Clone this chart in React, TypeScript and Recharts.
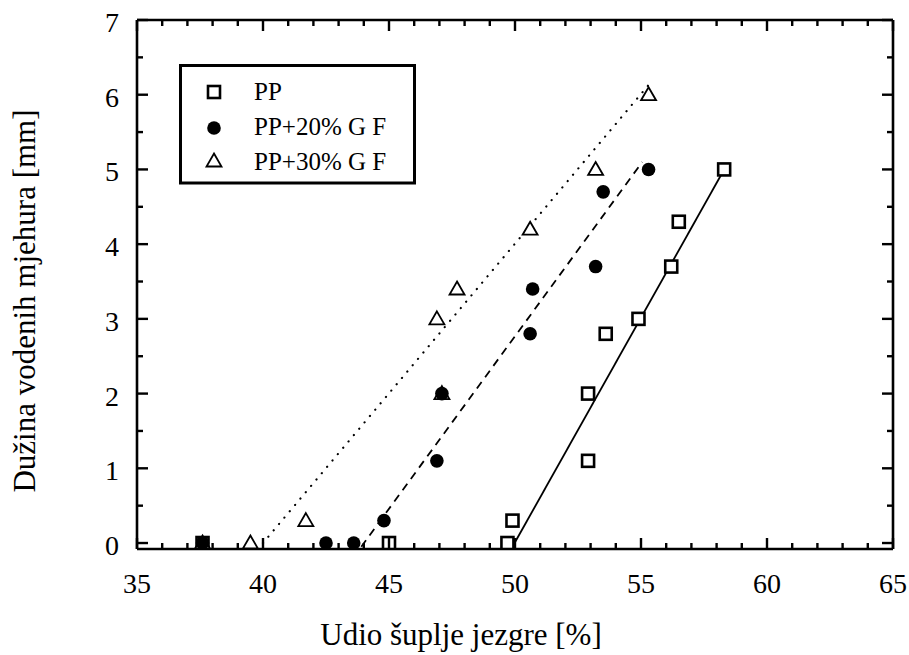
import { ComposedChart, Scatter, Line, XAxis, YAxis } from 'recharts'

// measured points, x = core void share [%], y = water bubble length [mm]
const ppX = [37.6, 45.0, 49.7, 49.9, 52.9, 52.9, 53.6, 54.9, 56.2, 56.5, 58.3]
const ppY = [0, 0, 0, 0.3, 1.1, 2.0, 2.8, 3.0, 3.7, 4.3, 5.0]

const gf20X = [37.6, 42.5, 43.6, 44.8, 46.9, 47.1, 50.6, 50.7, 53.2, 53.5, 55.3]
const gf20Y = [0, 0, 0, 0.3, 1.1, 2.0, 2.8, 3.4, 3.7, 4.7, 5.0]

const gf30X = [37.6, 39.5, 41.7, 46.9, 47.1, 47.7, 50.6, 53.2, 55.3]
const gf30Y = [0, 0, 0.3, 3.0, 2.0, 3.4, 4.2, 5.0, 6.0]

// fitted lines (end points)
const ppFitX = [49.9, 58.3]
const ppFitY = [-0.05, 5.0]
const gf20FitX = [43.9, 55.05]
const gf20FitY = [-0.05, 5.1]
const gf30FitX = [40.0, 55.4]
const gf30FitY = [0.0, 6.17]

const xTicks = [35, 36, 37, 38, 39, 40, 41, 42, 43, 44, 45, 46, 47, 48, 49, 50, 51, 52, 53, 54, 55, 56, 57, 58, 59, 60, 61, 62, 63, 64, 65]
const xMajor = [35, 40, 45, 50, 55, 60, 65]
const yTicks = [0, 0.5, 1, 1.5, 2, 2.5, 3, 3.5, 4, 4.5, 5, 5.5, 6, 6.5, 7]
const yMajor = [0, 1, 2, 3, 4, 5, 6, 7]

const seriesNames = ['PP', 'PP+20% G F', 'PP+30% G F']

const toPoints = (xs: number[], ys: number[]) => xs.map((x, i) => ({ x, y: ys[i] }))

const FONT = 'Liberation Serif, Times New Roman, serif'

function SquareDot(props: any) {
  const { cx, cy } = props
  if (cx == null || cy == null) return null
  return <rect x={cx - 6} y={cy - 6} width={12} height={12} fill="white" stroke="black" strokeWidth={2.6} />
}

function CircleDot(props: any) {
  const { cx, cy } = props
  if (cx == null || cy == null) return null
  return <circle cx={cx} cy={cy} r={6.8} fill="black" />
}

function TriangleDot(props: any) {
  const { cx, cy } = props
  if (cx == null || cy == null) return null
  return (
    <polygon
      points={`${cx},${cy - 7.5} ${cx + 7.5},${cy + 5.5} ${cx - 7.5},${cy + 5.5}`}
      fill="white"
      stroke="black"
      strokeWidth={1.8}
      strokeLinejoin="miter"
    />
  )
}

function makeXTick(side: 'bottom' | 'top') {
  return (props: any) => {
    const { x, y, payload } = props
    const major = xMajor.includes(payload.value)
    const len = major ? 11 : 6
    const dir = side === 'bottom' ? -1 : 1
    return (
      <g>
        <line x1={x} y1={y} x2={x} y2={y + dir * len} stroke="black" strokeWidth={2.4} />
        {side === 'bottom' && major && (
          <text x={x} y={y + 44} textAnchor="middle" fontSize={28} fontFamily={FONT} fill="black">
            {payload.value}
          </text>
        )}
      </g>
    )
  }
}

function makeYTick(side: 'left' | 'right') {
  return (props: any) => {
    const { x, y, payload } = props
    const major = yMajor.includes(payload.value)
    const len = major ? 11 : 6
    const dir = side === 'left' ? 1 : -1
    return (
      <g>
        <line x1={x} y1={y} x2={x + dir * len} y2={y} stroke="black" strokeWidth={2.4} />
        {side === 'left' && major && (
          <text x={x - 18} y={y + 12} textAnchor="end" fontSize={28} fontFamily={FONT} fill="black">
            {payload.value}
          </text>
        )}
      </g>
    )
  }
}

const axisLine = { stroke: 'black', strokeWidth: 2.6 }

export default function App() {
  return (
    <div style={{ position: 'absolute', left: 0, top: 0, width: 909, height: 655, background: 'white' }}>
      <ComposedChart width={909} height={655} margin={{ top: 19, right: 15, bottom: 105, left: 136 }}>
        <XAxis
          xAxisId="b"
          type="number"
          dataKey="x"
          domain={[35, 65]}
          ticks={xTicks}
          interval={0}
          height={1}
          tickSize={0}
          tickMargin={0}
          tickLine={false}
          axisLine={axisLine}
          tick={makeXTick('bottom')}
          allowDataOverflow
        />
        <XAxis
          xAxisId="t"
          orientation="top"
          type="number"
          dataKey="x"
          domain={[35, 65]}
          ticks={xTicks}
          interval={0}
          height={1}
          tickSize={0}
          tickMargin={0}
          tickLine={false}
          axisLine={axisLine}
          tick={makeXTick('top')}
          allowDataOverflow
        />
        <YAxis
          yAxisId="l"
          type="number"
          dataKey="y"
          domain={[-0.08, 7]}
          ticks={yTicks}
          interval={0}
          width={1}
          tickSize={0}
          tickMargin={0}
          tickLine={false}
          axisLine={axisLine}
          tick={makeYTick('left')}
          allowDataOverflow
        />
        <YAxis
          yAxisId="r"
          orientation="right"
          type="number"
          dataKey="y"
          domain={[-0.08, 7]}
          ticks={yTicks}
          interval={0}
          width={1}
          tickSize={0}
          tickMargin={0}
          tickLine={false}
          axisLine={axisLine}
          tick={makeYTick('right')}
          allowDataOverflow
        />

        <Line
          xAxisId="b"
          yAxisId="l"
          data={toPoints(gf30FitX, gf30FitY)}
          dataKey="y"
          type="linear"
          stroke="black"
          strokeWidth={2.2}
          strokeDasharray="0.1 8.2"
          strokeLinecap="round"
          dot={false}
          isAnimationActive={false}
        />
        <Line
          xAxisId="b"
          yAxisId="l"
          data={toPoints(gf20FitX, gf20FitY)}
          dataKey="y"
          type="linear"
          stroke="black"
          strokeWidth={1.8}
          strokeDasharray="8 6"
          dot={false}
          isAnimationActive={false}
        />
        <Line
          xAxisId="b"
          yAxisId="l"
          data={toPoints(ppFitX, ppFitY)}
          dataKey="y"
          type="linear"
          stroke="black"
          strokeWidth={1.8}
          dot={false}
          isAnimationActive={false}
        />

        <Scatter xAxisId="b" yAxisId="l" name={seriesNames[0]} data={toPoints(ppX, ppY)} shape={SquareDot} isAnimationActive={false} />
        <Scatter xAxisId="b" yAxisId="l" name={seriesNames[2]} data={toPoints(gf30X, gf30Y)} shape={TriangleDot} isAnimationActive={false} />
        <Scatter xAxisId="b" yAxisId="l" name={seriesNames[1]} data={toPoints(gf20X, gf20Y)} shape={CircleDot} isAnimationActive={false} />
        <Scatter xAxisId="t" yAxisId="r" data={[]} isAnimationActive={false} />
      </ComposedChart>

      <svg
        width={909}
        height={655}
        style={{ position: 'absolute', left: 0, top: 0, pointerEvents: 'none' }}
        fontFamily={FONT}
      >
        <text x={461} y={645} textAnchor="middle" fontSize={31} fill="black">
          Udio šuplje jezgre [%]
        </text>
        <text
          x={0}
          y={0}
          transform="translate(35 301) rotate(-90)"
          textAnchor="middle"
          fontSize={31}
          fill="black"
        >
          Dužina vodenih mjehura [mm]
        </text>

        <rect x={180.5} y={65.5} width={234} height={117.5} fill="white" stroke="black" strokeWidth={3} />
        <SquareDot cx={214} cy={92} />
        <CircleDot cx={214} cy={128} />
        <TriangleDot cx={214} cy={161} />
        <text x={254} y={99.5} fontSize={25} fill="black">{seriesNames[0]}</text>
        <text x={254} y={135} fontSize={25} fill="black">{seriesNames[1]}</text>
        <text x={254} y={169.5} fontSize={25} fill="black">{seriesNames[2]}</text>
      </svg>
    </div>
  )
}
